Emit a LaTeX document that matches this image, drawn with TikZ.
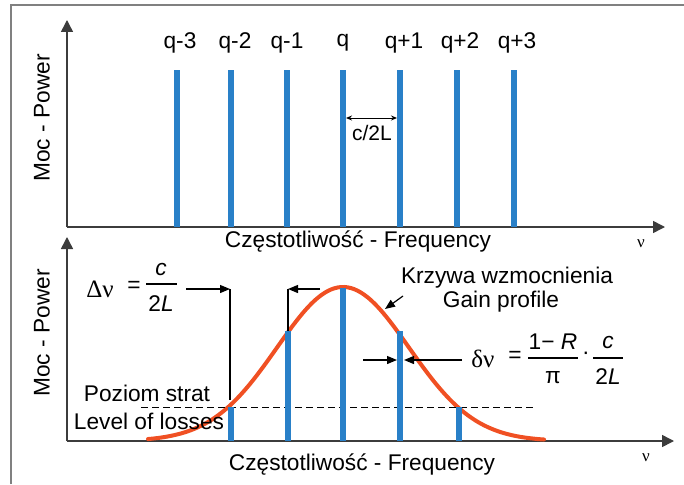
\documentclass[tikz,border=0pt]{standalone}
\usepackage{fontspec}
\setmainfont{Liberation Sans}
\newfontfamily\seriffont{Liberation Serif}
\usetikzlibrary{arrows.meta}
\definecolor{barblue}{RGB}{41,128,200}
\definecolor{gaincurve}{RGB}{240,80,35}
\definecolor{axisgray}{RGB}{60,60,60}
\begin{document}
\begin{tikzpicture}[x=1pt,y=-1pt,
  axisline/.style={line width=1.5pt,draw=axisgray,-{Triangle[length=12pt,width=12pt]}},
  modebar/.style={line width=5.5pt,draw=barblue},
  lbl/.style={font=\fontsize{22.7}{26}\selectfont,inner sep=0pt},
  smlbl/.style={font=\fontsize{21}{25}\selectfont,inner sep=0pt},
  nulbl/.style={font=\seriffont\fontsize{17}{20}\selectfont,inner sep=0pt},
  frac/.style={line width=1.2pt},
  pointer/.style={line width=1.2pt,-{Triangle[length=10pt,width=8pt]}},
  guide/.style={line width=1.2pt}
]
\useasboundingbox (0,0) rectangle (684,484);
% frame
\draw[line width=1.5pt,draw=gray] (11,484) -- (11,5) -- (684,5);

% ---------- top panel ----------
\coordinate (o1) at (67,227);
\coordinate (y1) at (67,20);
\coordinate (x1) at (665,227);
\draw[axisline] (o1) -- (y1);
\draw[axisline] (o1) -- (x1);
\node[nulbl] (nu1) at (641,244) {ν};
\node[lbl,rotate=90] (p1) at (42,118) {Moc - Power};
\node[lbl] (f1) at (358,242) {Częstotliwość - Frequency};

\foreach \xx/\tt/\lx [count=\i] in {177/q-3/180, 231/q-2/235, 287/q-1/287, 343/q/343, 400/q+1/404, 457/q+2/460, 514/q+3/517}{
  \coordinate (bt\i) at (\xx,70);
  \coordinate (bb\i) at (\xx,227);
  \draw[modebar] (bb\i) -- (bt\i);
  \node[lbl] (ql\i) at (\lx,43) {\tt};
}
\coordinate (sa) at (346,118);
\coordinate (sb) at (397,118);
\draw[line width=1pt,{Stealth[length=6pt,width=5pt]}-{Stealth[length=6pt,width=5pt]}] (sa) -- (sb);
\node[smlbl] (sp) at (372,133) {c/2L};

% ---------- bottom panel ----------
\coordinate (o2) at (67,441);
\coordinate (y2) at (67,237);
\coordinate (x2) at (674,441);
\draw[axisline] (o2) -- (y2);
\draw[axisline] (o2) -- (x2);
\node[nulbl] (nu2) at (646,458) {ν};
\node[lbl,rotate=90] (p2) at (42,333) {Moc - Power};
\node[lbl] (f2) at (362,465) {Częstotliwość - Frequency};

% gain curve
\draw[line width=4pt,draw=gaincurve,line cap=round]
  plot[domain=148:544,samples=120,smooth] ({\x},{441-154*exp(-0.5*((\x-343)/66)^2)});

% loss level
\coordinate (la) at (141,407);
\coordinate (lb) at (534,407);
\draw[line width=1pt,dash pattern=on 7pt off 4pt] (la) -- (lb);

% bars
\foreach \xx/\yy [count=\i] in {231/407, 288/331, 343/288, 400/331, 459/407}{
  \coordinate (ct\i) at (\xx,\yy);
  \coordinate (cb\i) at (\xx,441);
  \draw[modebar] (cb\i) -- (ct\i);
}

% labels
\node[lbl] (ps) at (147,393) {Poziom strat};
\node[lbl] (lo) at (149,421) {Level of losses};
\node[lbl] (kw) at (507,278) {Krzywa wzmocnienia};
\node[lbl] (gp) at (501,302) {Gain profile};

% gain profile pointer
\coordinate (gpa) at (403,296);
\coordinate (gpb) at (385,309);
\draw[pointer] (gpa) -- (gpb);

% Delta nu
\node[font=\seriffont\fontsize{25}{28}\selectfont,inner sep=0pt] (dn) at (100,289) {Δν};
\node[lbl] (deq) at (134,287) {=};
\node[lbl] (dnum) at (161,269) {\itshape c};
\coordinate (dfa) at (146,284);
\coordinate (dfb) at (177,284);
\draw[frac] (dfa) -- (dfb);
\node[lbl] (dden) at (161,304) {2\itshape L};
\coordinate (da1) at (186,289);
\coordinate (da2) at (230,289);
\coordinate (dv1) at (230,400);
\draw[pointer] (da1) -- (da2);
\draw[guide] (da2) -- (dv1);
\coordinate (db1) at (320,289);
\coordinate (db2) at (288,289);
\coordinate (dv2) at (288,331);
\draw[pointer] (db1) -- (db2);
\draw[guide] (db2) -- (dv2);

% delta nu (linewidth)
\coordinate (ea1) at (363,360);
\coordinate (ea2) at (397,360);
\coordinate (eb1) at (462,360);
\coordinate (eb2) at (404,360);
\draw[pointer] (ea1) -- (ea2);
\draw[pointer] (eb1) -- (eb2);
\node[font=\seriffont\fontsize{25}{28}\selectfont,inner sep=0pt] (sn) at (483,359) {δν};
\node[lbl] (seq) at (515,357) {=};
\node[lbl] (snum) at (553,342) {1− \itshape R};
\coordinate (sfa) at (528,358);
\coordinate (sfb) at (578,358);
\draw[frac] (sfa) -- (sfb);
\node[lbl] (sden) at (553,378) {π};
\node[lbl] (sdot) at (586,356) {·};
\node[lbl] (snum2) at (608,342) {\itshape c};
\coordinate (sga) at (593,358);
\coordinate (sgb) at (623,358);
\draw[frac] (sga) -- (sgb);
\node[lbl] (sden2) at (608,377) {2\itshape L};
\end{tikzpicture}
\end{document}
